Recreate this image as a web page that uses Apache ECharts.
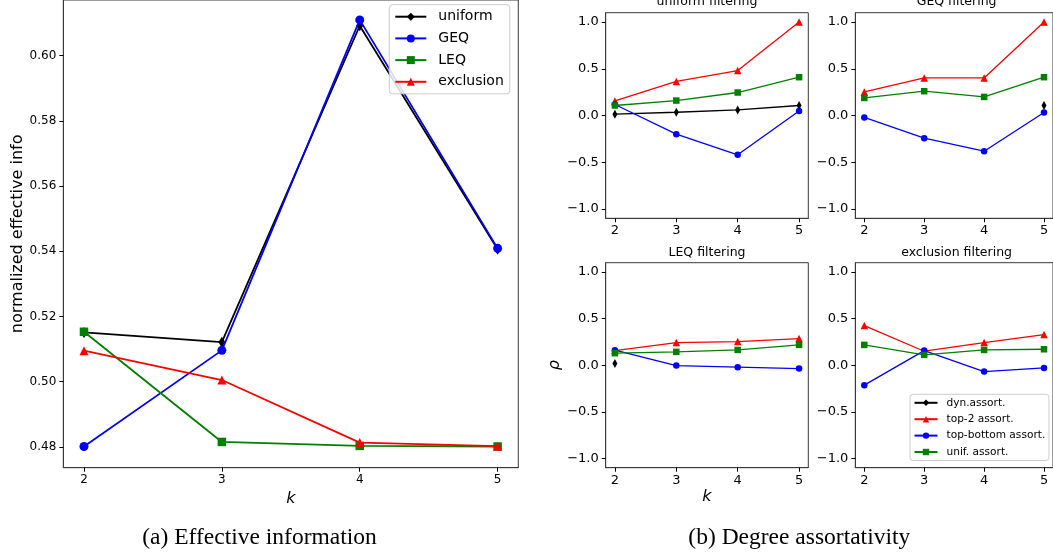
<!DOCTYPE html>
<html>
<head>
<meta charset="utf-8">
<script src="https://cdn.jsdelivr.net/npm/echarts@6/dist/echarts.min.js"></script>
<style>
html,body{margin:0;padding:0;background:#fff;}
#chart{width:1053px;height:556px;}
</style>
</head>
<body>
<div id="chart"></div>
<script>
// ---- data ----
const kValues = [2, 3, 4, 5];

// (a) Effective information
const effUniform   = [0.5151, 0.5121, 0.6092, 0.5406];
const effGEQ       = [0.4801, 0.5096, 0.6110, 0.5409];
const effLEQ       = [0.5153, 0.4815, 0.4803, 0.4801];
const effExclusion = [0.5095, 0.5005, 0.4813, 0.4802];
const effTicks = [0.48, 0.50, 0.52, 0.54, 0.56, 0.58, 0.60];

// (b) Degree assortativity, one set per filtering
const panelTitles = ['uniform filtering', 'GEQ filtering', 'LEQ filtering', 'exclusion filtering'];
const dynAssort = [
  [0.014, 0.035, 0.060, 0.107],
  [null, null, null, 0.107],
  [0.018, null, null, null],
  [null, null, null, null]
];
const top2Assort = [
  [0.156, 0.364, 0.481, 1.000],
  [0.252, 0.402, 0.402, 1.000],
  [0.157, 0.243, 0.254, 0.286],
  [0.425, 0.150, 0.243, 0.329]
];
const topBottomAssort = [
  [0.118, -0.200, -0.421, 0.049],
  [-0.021, -0.243, -0.382, 0.032],
  [0.161, -0.004, -0.021, -0.036],
  [-0.214, 0.157, -0.068, -0.029]
];
const unifAssort = [
  [0.107, 0.160, 0.246, 0.410],
  [0.188, 0.260, 0.199, 0.410],
  [0.129, 0.143, 0.164, 0.218],
  [0.218, 0.111, 0.164, 0.171]
];
const rhoTicks = [-1.0, -0.5, 0.0, 0.5, 1.0];

// ---- styling / layout ----
const FONT = 'DejaVu Sans';
const FRAME = '#3a3a3a';
const thinDiamond = 'path://M0,-10 L6,0 L0,10 L-6,0 Z';

const pairs = (vals) => kValues.map((k, i) => [k, vals[i]]);
const fmtMinus = (v, d) => (v < 0 ? '\u2212' : '') + Math.abs(v).toFixed(d);

const grids = [
  {left: 63.3, top: -1.9, width: 455, height: 469.6},        // (a)
  {left: 605.7, top: 12.7, width: 202.6, height: 205.6},     // uniform
  {left: 855.3, top: 12.7, width: 202.6, height: 205.6},     // GEQ
  {left: 605.7, top: 262.7, width: 202.6, height: 205},      // LEQ
  {left: 855.3, top: 262.7, width: 202.6, height: 205}       // exclusion
].map(g => Object.assign({show: true, borderColor: FRAME, borderWidth: 1, backgroundColor: 'transparent', containLabel: false}, g));

function xAxisFor(gi, fontSize, name) {
  return {
    type: 'value', gridIndex: gi, min: 1.85, max: 5.15, position: 'bottom',
    splitLine: {show: false},
    axisLine: {show: true, onZero: false, lineStyle: {color: FRAME, width: 1}},
    axisTick: {show: true, inside: false, length: 4, lineStyle: {color: '#000'}, customValues: kValues},
    axisLabel: {show: true, margin: 6, color: '#000', fontFamily: FONT, fontSize: fontSize, customValues: kValues, formatter: v => String(v)},
    name: name || '', nameLocation: 'middle', nameGap: 21,
    nameTextStyle: {fontFamily: FONT, fontSize: 16, fontStyle: 'italic', color: '#000'}
  };
}
function yAxisFor(gi, min, max, ticks, dec, fontSize, name, nameGap) {
  return {
    type: 'value', gridIndex: gi, min: min, max: max, position: 'left',
    splitLine: {show: false},
    axisLine: {show: true, onZero: false, lineStyle: {color: FRAME, width: 1}},
    axisTick: {show: true, inside: false, length: 4, lineStyle: {color: '#000'}, customValues: ticks},
    axisLabel: {show: true, margin: 7, color: '#000', fontFamily: FONT, fontSize: fontSize, customValues: ticks, formatter: v => fmtMinus(v, dec)},
    name: name || '', nameLocation: 'middle', nameGap: nameGap || 30, nameRotate: 90,
    nameTextStyle: {fontFamily: FONT, fontSize: 16, color: '#000'}
  };
}

const xAxes = [xAxisFor(0, 12, 'k')];
const yAxes = [yAxisFor(0, 0.4736, 0.6171, effTicks, 2, 12, 'normalized effective info', 37)];
for (let p = 0; p < 4; p++) {
  xAxes.push(xAxisFor(p + 1, 13, p === 2 ? 'k' : ''));
  yAxes.push(yAxisFor(p + 1, -1.1, 1.1, rhoTicks, 1, 13, p === 2 ? '\u03c1' : '', 40));
}
yAxes[3].nameTextStyle.fontStyle = 'italic';

function lineSeries(name, gi, vals, color, symbol, size, lw, z) {
  return {
    type: 'line', name: name, xAxisIndex: gi, yAxisIndex: gi,
    data: pairs(vals), symbol: symbol, symbolSize: size, showSymbol: true, showAllSymbol: true,
    connectNulls: false, animation: false, z: z,
    lineStyle: {color: color, width: lw},
    itemStyle: {color: color, borderWidth: 0},
    emphasis: {disabled: true}
  };
}

const series = [
  lineSeries('uniform', 0, effUniform, '#000000', thinDiamond, [7, 11], 1.8, 2),
  lineSeries('GEQ', 0, effGEQ, '#0000ff', 'circle', 9, 1.8, 3),
  lineSeries('LEQ', 0, effLEQ, '#008000', 'rect', 8.5, 1.8, 4),
  lineSeries('exclusion', 0, effExclusion, '#ff0000', 'triangle', 9, 1.8, 5)
];
for (let p = 0; p < 4; p++) {
  const gi = p + 1;
  series.push(lineSeries('dyn.assort.', gi, dynAssort[p], '#000000', thinDiamond, [5, 9], 1.3, 2));
  series.push(lineSeries('top-2 assort.', gi, top2Assort[p], '#ff0000', 'triangle', 7.5, 1.3, 3));
  series.push(lineSeries('top-bottom assort.', gi, topBottomAssort[p], '#0000ff', 'circle', 6.5, 1.3, 4));
  series.push(lineSeries('unif. assort.', gi, unifAssort[p], '#008000', 'rect', 6.5, 1.3, 5));
}

const legendBase = {
  orient: 'vertical', backgroundColor: 'rgba(255,255,255,0.85)', borderColor: '#cccccc', borderWidth: 1,
  borderRadius: 3, selectedMode: false, inactiveColor: '#ccc'
};

const option = {
  animation: false,
  backgroundColor: '#ffffff',
  grid: grids,
  xAxis: xAxes,
  yAxis: yAxes,
  legend: [
    Object.assign({}, legendBase, {
      data: ['uniform', 'GEQ', 'LEQ', 'exclusion'],
      left: 389.3, top: 4.7, padding: [5, 6, 5, 5],
      itemWidth: 31, itemHeight: 10, itemGap: 7.7,
      textStyle: {fontFamily: FONT, fontSize: 14, color: '#000', padding: [0, 0, 0, 7]}
    }),
    Object.assign({}, legendBase, {
      data: ['dyn.assort.', 'top-2 assort.', 'top-bottom assort.', 'unif. assort.'],
      left: 910, top: 394.3, padding: [3, 3.7, 3, 3.5],
      itemWidth: 23, itemHeight: 8, itemGap: 5.4,
      textStyle: {fontFamily: FONT, fontSize: 10.6, color: '#000', padding: [0, 0, 0, 4]}
    })
  ],
  graphic: [
    {type: 'text', x: 707, y: 2, z: 100, style: {text: panelTitles[0], font: '12.5px "DejaVu Sans"', fill: '#000', align: 'center', verticalAlign: 'middle'}},
    {type: 'text', x: 956.6, y: 2, z: 100, style: {text: panelTitles[1], font: '12.5px "DejaVu Sans"', fill: '#000', align: 'center', verticalAlign: 'middle'}},
    {type: 'text', x: 707, y: 252.3, z: 100, style: {text: panelTitles[2], font: '12.5px "DejaVu Sans"', fill: '#000', align: 'center', verticalAlign: 'middle'}},
    {type: 'text', x: 956.6, y: 252.3, z: 100, style: {text: panelTitles[3], font: '12.5px "DejaVu Sans"', fill: '#000', align: 'center', verticalAlign: 'middle'}},
    {type: 'text', x: 259.5, y: 538, z: 100, style: {text: '(a) Effective information', font: '23.5px "Liberation Serif"', fill: '#000', align: 'center', verticalAlign: 'middle'}},
    {type: 'text', x: 799.3, y: 538, z: 100, style: {text: '(b) Degree assortativity', font: '23.5px "Liberation Serif"', fill: '#000', align: 'center', verticalAlign: 'middle'}}
  ],
  series: series
};

const chart = echarts.init(document.getElementById('chart'), null, {renderer: 'canvas', width: 1053, height: 556});
chart.setOption(option);
</script>
</body>
</html>
